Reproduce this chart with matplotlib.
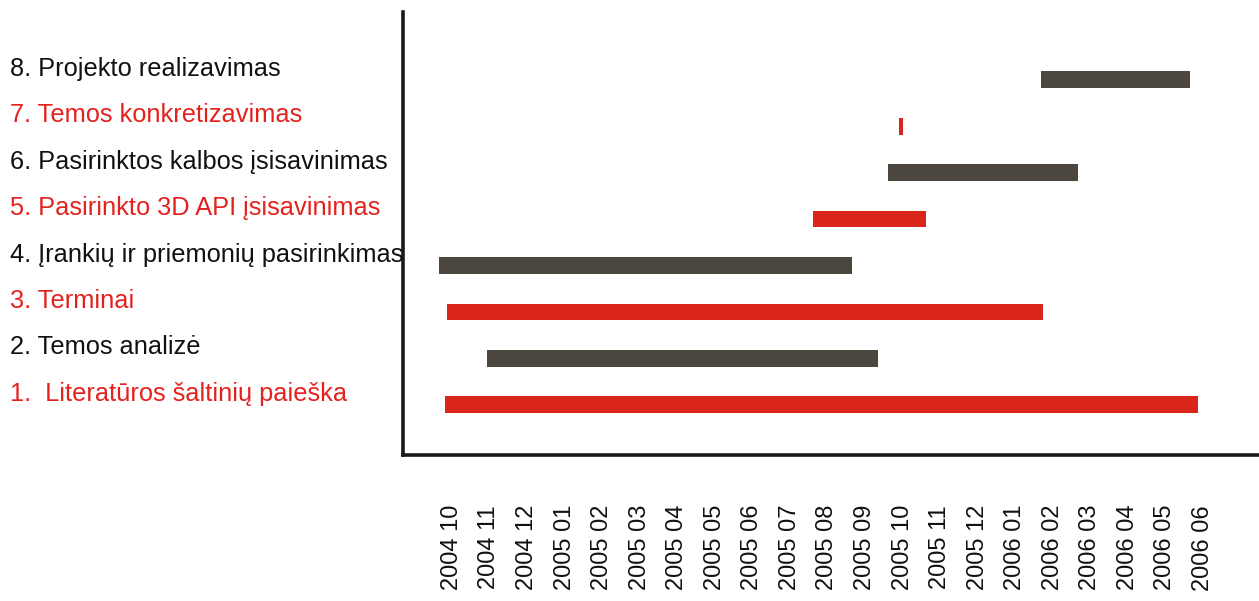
import matplotlib
matplotlib.use("Agg")
import matplotlib.pyplot as plt
import matplotlib.transforms as mtransforms

# ---- data ----
tasks = [
    "1.  Literatūros šaltinių paieška",
    "2. Temos analizė",
    "3. Terminai",
    "4. Įrankių ir priemonių pasirinkimas",
    "5. Pasirinkto 3D API įsisavinimas",
    "6. Pasirinktos kalbos įsisavinimas",
    "7. Temos konkretizavimas",
    "8. Projekto realizavimas",
]
# start / end in months from 2004 10 (index into month_labels)
starts = [-0.19, 0.93, -0.13, -0.35, 9.61, 11.61, 11.90, 15.69]
ends = [19.87, 11.35, 15.74, 10.65, 12.62, 16.67, 12.01, 19.65]
month_labels = [
    "2004 10", "2004 11", "2004 12", "2005 01", "2005 02", "2005 03",
    "2005 04", "2005 05", "2005 06", "2005 07", "2005 08", "2005 09",
    "2005 10", "2005 11", "2005 12", "2006 01", "2006 02", "2006 03",
    "2006 04", "2006 05", "2006 06",
]

RED = "#D9251C"
DARK = "#4B463E"
TEXT_RED = "#E3221E"
TEXT_DARK = "#111111"

plt.rcParams['font.family'] = ['Liberation Sans', 'DejaVu Sans']

fig = plt.figure(figsize=(12.59, 6.01), dpi=100)
ax = fig.add_axes([403 / 1259, 1 - 455 / 601, 1 - 403 / 1259, (455 - 12) / 601])

for i, (s, e) in enumerate(zip(starts, ends)):
    y = i + 1
    color = RED if i % 2 == 0 else DARK
    ax.barh(y, e - s, left=s, height=0.36, color=color, edgecolor='none')

ax.set_xlim(-1.30, 21.49)
ax.set_ylim(-0.08, 9.46)

ax.set_xticks(range(len(month_labels)))
ax.set_xticklabels(month_labels, rotation=90, fontsize=17, color="#111111")
ax.tick_params(axis='x', length=0, pad=36)
ax.set_yticks([])

for side in ['top', 'right']:
    ax.spines[side].set_visible(False)
for side in ['left', 'bottom']:
    ax.spines[side].set_linewidth(2.6)
    ax.spines[side].set_color("#1a1a1a")

trans = mtransforms.blended_transform_factory(fig.transFigure, ax.transData)
offset = mtransforms.ScaledTranslation(0, 11 / 100, fig.dpi_scale_trans)
for i, name in enumerate(tasks):
    color = TEXT_RED if i % 2 == 0 else TEXT_DARK
    fig.text(10 / 1259, i + 1, name, transform=trans + offset,
             ha='left', va='center', fontsize=18.3, color=color)

fig.savefig("out.png", dpi=100)
